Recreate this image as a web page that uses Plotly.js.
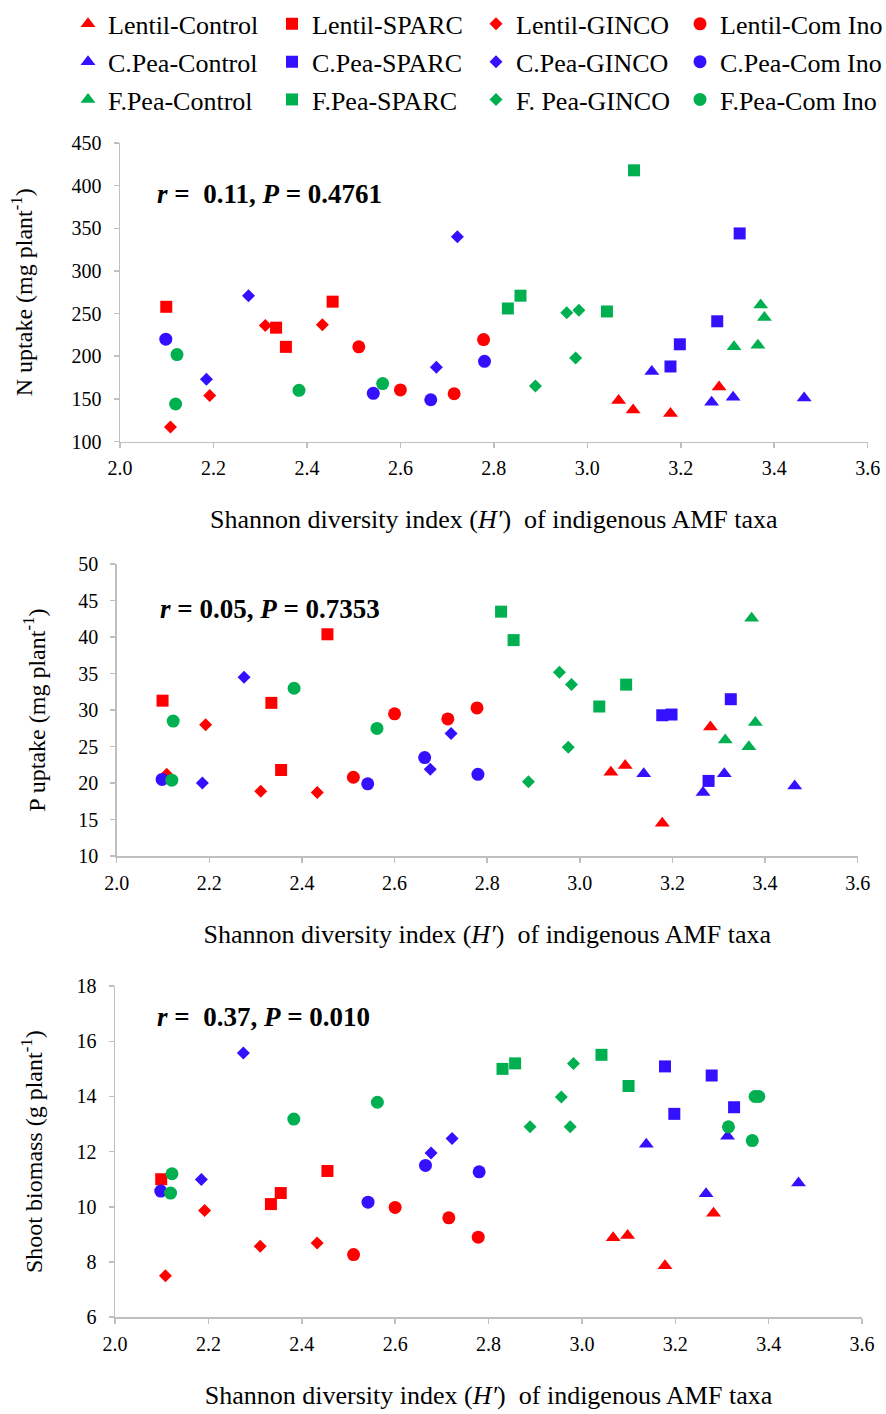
<!DOCTYPE html>
<html>
<head>
<meta charset="utf-8">
<script src="https://cdn.plot.ly/plotly-3.0.1.min.js"></script>
<style>html,body{margin:0;padding:0;background:#fff;}#chart{width:886px;height:1414px;}</style>
</head>
<body>
<div id="chart"></div>
<script>
// Group names (legend labels)
const groupNames = ["Lentil-Control","Lentil-SPARC","Lentil-GINCO","Lentil-Com Ino",
                    "C.Pea-Control","C.Pea-SPARC","C.Pea-GINCO","C.Pea-Com Ino",
                    "F.Pea-Control","F.Pea-SPARC","F. Pea-GINCO","F.Pea-Com Ino"];

// Shannon diversity index (H') per sample, one array per group
const xLentilControl = [3.067, 3.098, 3.178, 3.282];
const xLentilSPARC   = [2.099, 2.334, 2.355, 2.455];
const xLentilGINCO   = [2.108, 2.192, 2.311, 2.433];
const xLentilComIno  = [2.511, 2.600, 2.715, 2.778];
const xCPeaControl   = [3.138, 3.266, 3.312, 3.464];
const xCPeaSPARC     = [3.178, 3.198, 3.278, 3.326];
const xCPeaGINCO     = [2.185, 2.275, 2.677, 2.722];
const xCPeaComIno    = [2.098, 2.542, 2.665, 2.780];
const xFPeaControl   = [3.314, 3.365, 3.371, 3.379];
const xFPeaSPARC     = [2.830, 2.857, 3.042, 3.100];
const xFPeaGINCO     = [2.889, 2.956, 2.975, 2.982];
const xFPeaComIno    = [2.119, 2.122, 2.383, 2.562];

// N uptake (mg plant-1)
const nLentilControl = [148, 137, 133, 164];
const nLentilSPARC   = [258, 233.5, 211, 264];
const nLentilGINCO   = [117, 154, 236, 237];
const nLentilComIno  = [211, 160.5, 156, 219.5];
const nCPeaControl   = [182, 146, 152, 151];
const nCPeaSPARC     = [188, 214, 241, 344];
const nCPeaGINCO     = [173, 271, 187, 340];
const nCPeaComIno    = [220, 156.5, 149, 194];
const nFPeaControl   = [211, 213, 260, 245.5];
const nFPeaSPARC     = [256, 271, 252.5, 418];
const nFPeaGINCO     = [165, 251, 198, 254];
const nFPeaComIno    = [144, 202, 160, 168];

// P uptake (mg plant-1)
const pLentilControl = [21.5, 22.4, 14.5, 27.7];
const pLentilSPARC   = [31.3, 31.0, 21.8, 40.4];
const pLentilGINCO   = [21.2, 28.0, 18.9, 18.7];
const pLentilComIno  = [20.8, 29.5, 28.8, 30.3];
const pCPeaControl   = [21.3, 18.7, 21.3, 19.6];
const pCPeaSPARC     = [29.3, 29.4, 20.3, 31.5];
const pCPeaGINCO     = [20.0, 34.5, 21.9, 26.8];
const pCPeaComIno    = [20.5, 19.9, 23.5, 21.2];
const pFPeaControl   = [25.9, 25.0, 42.6, 28.3];
const pFPeaSPARC     = [43.5, 39.6, 30.5, 33.5];
const pFPeaGINCO     = [20.2, 35.2, 24.9, 33.5];
const pFPeaComIno    = [20.4, 28.5, 33.0, 27.5];

// Shoot biomass (g plant-1)
const sLentilControl = [8.88, 8.96, 7.86, 9.77];
const sLentilSPARC   = [11.0, 10.1, 10.5, 11.3];
const sLentilGINCO   = [7.5, 9.87, 8.57, 8.69];
const sLentilComIno  = [8.27, 9.98, 9.6, 8.9];
const sCPeaControl   = [12.27, 10.47, 12.56, 10.86];
const sCPeaSPARC     = [15.09, 13.37, 14.76, 13.61];
const sCPeaGINCO     = [10.99, 15.58, 11.95, 12.48];
const sCPeaComIno    = [10.57, 10.17, 11.5, 11.27];
const sFPeaControl   = [12.9, 12.4, 14.0, 14.0];
const sFPeaSPARC     = [15.0, 15.2, 15.51, 14.38];
const sFPeaGINCO     = [12.9, 13.98, 12.9, 15.2];
const sFPeaComIno    = [10.5, 11.2, 13.18, 13.79];

// Tick labels
const xTickVals = [2.0, 2.2, 2.4, 2.6, 2.8, 3.0, 3.2, 3.4, 3.6];
const xTickText = ["2.0","2.2","2.4","2.6","2.8","3.0","3.2","3.4","3.6"];

const statTexts = ["<b><i>r</i> =&nbsp; 0.11, <i>P</i> = 0.4761</b>",
                   "<b><i>r</i> = 0.05, <i>P</i> = 0.7353</b>",
                   "<b><i>r</i> =&nbsp; 0.37, <i>P</i> = 0.010</b>"];

const xs = [xLentilControl,xLentilSPARC,xLentilGINCO,xLentilComIno,xCPeaControl,xCPeaSPARC,xCPeaGINCO,xCPeaComIno,xFPeaControl,xFPeaSPARC,xFPeaGINCO,xFPeaComIno];
const ns = [nLentilControl,nLentilSPARC,nLentilGINCO,nLentilComIno,nCPeaControl,nCPeaSPARC,nCPeaGINCO,nCPeaComIno,nFPeaControl,nFPeaSPARC,nFPeaGINCO,nFPeaComIno];
const ps = [pLentilControl,pLentilSPARC,pLentilGINCO,pLentilComIno,pCPeaControl,pCPeaSPARC,pCPeaGINCO,pCPeaComIno,pFPeaControl,pFPeaSPARC,pFPeaGINCO,pFPeaComIno];
const ss = [sLentilControl,sLentilSPARC,sLentilGINCO,sLentilComIno,sCPeaControl,sCPeaSPARC,sCPeaGINCO,sCPeaComIno,sFPeaControl,sFPeaSPARC,sFPeaGINCO,sFPeaComIno];

const colors = ["#FF0000", "#3311FF", "#00B050"];
const symbols = ["triangle-up", "square", "diamond", "circle"];
const sizes = {"triangle-up": 13, "square": 12, "diamond": 10, "circle": 13};
const legendIds = ["legend", "legend2", "legend3"];

const traces = [];
const panels = [
  {ys: ns, xa: "x", ya: "y"},
  {ys: ps, xa: "x2", ya: "y2"},
  {ys: ss, xa: "x3", ya: "y3"}
];
panels.forEach((pan, pi) => {
  for (let g = 0; g < 12; g++) {
    const crop = Math.floor(g / 4);
    let sym = symbols[g % 4];
    // In the shoot-biomass panel the F.Pea-Control points are drawn as circles
    if (pi === 2 && g === 8) sym = "circle";
    traces.push({
      type: "scatter", mode: "markers",
      x: xs[g], y: pan.ys[g],
      xaxis: pan.xa, yaxis: pan.ya,
      name: groupNames[g],
      legendgroup: groupNames[g],
      legend: legendIds[crop],
      showlegend: pi === 0,
      cliponaxis: false,
      marker: {symbol: sym, size: sizes[sym], color: colors[crop], line: {width: 0}}
    });
  }
});

const W = 886, H = 1414;
function dx(a, b) { return [a / W, b / W]; }
function dy(top, bottom) { return [1 - bottom / H, 1 - top / H]; }

const FAM = "Liberation Serif";
const axisCommon = {
  showline: true, linecolor: "#BFBFBF", linewidth: 1.5,
  ticks: "outside", ticklen: 5, tickwidth: 1.5, tickcolor: "#BFBFBF",
  showgrid: false, zeroline: false,
  tickfont: {family: FAM, size: 20, color: "#000"}
};
const xTitleFont = {family: FAM, size: 26, color: "#000"};
const yTitleFont = {family: FAM, size: 24, color: "#000"};
const xTitle = "Shannon diversity index (<i>H′</i>)&nbsp; of indigenous AMF taxa";

function xAxis(domain, anchor) {
  return Object.assign({}, axisCommon, {
    domain: domain, anchor: anchor, range: [2.0, 3.6],
    tickvals: xTickVals, ticktext: xTickText, ticklabelstandoff: 3,
    title: {text: xTitle, font: xTitleFont, standoff: 32}
  });
}
function yAxis(domain, anchor, range, dtick, title, standoff) {
  return Object.assign({}, axisCommon, {
    domain: domain, anchor: anchor, range: range, dtick: dtick, tick0: range[0],
    ticklabelstandoff: 8,
    title: {text: title, font: yTitleFont, standoff: standoff}
  });
}

const legendFont = {family: FAM, size: 26, color: "#000"};
function legendAt(yPx) {
  return {
    orientation: "h", x: 68 / W, xanchor: "left", y: 1 - yPx / H, yanchor: "middle",
    entrywidth: 159, entrywidthmode: "pixels", font: legendFont,
    bgcolor: "rgba(0,0,0,0)", itemclick: false, itemdoubleclick: false,
    tracegroupgap: 0
  };
}

const annFont = {family: FAM, size: 27, color: "#000"};
const layout = {
  width: W, height: H,
  margin: {l: 0, r: 0, t: 0, b: 0},
  paper_bgcolor: "#fff", plot_bgcolor: "#fff",
  font: {family: FAM, color: "#000"},
  xaxis:  xAxis(dx(120, 867.7), "y"),
  yaxis:  yAxis(dy(136.7, 436.7), "x", [100, 450], 50, "N uptake (mg plant<sup>-1</sup>)", 32),
  xaxis2: xAxis(dx(116.7, 857.7), "y2"),
  yaxis2: yAxis(dy(560, 853.3), "x2", [10, 50], 5, "P uptake (mg plant<sup>-1</sup>)", 26),
  xaxis3: xAxis(dx(115, 862), "y3"),
  yaxis3: yAxis(dy(984, 1316.7), "x3", [6, 18], 2, "Shoot biomass (g plant<sup>-1</sup>)", 27),
  legend: legendAt(17),
  legend2: legendAt(55),
  legend3: legendAt(93),
  annotations: [
    {text: statTexts[0], xref: "paper", yref: "paper", x: 155 / W, y: 1 - 188 / H, xanchor: "left", yanchor: "middle", showarrow: false, font: annFont},
    {text: statTexts[1], xref: "paper", yref: "paper", x: 158 / W, y: 1 - 605 / H, xanchor: "left", yanchor: "middle", showarrow: false, font: annFont},
    {text: statTexts[2], xref: "paper", yref: "paper", x: 155 / W, y: 1 - 1015 / H, xanchor: "left", yanchor: "middle", showarrow: false, font: annFont}
  ]
};

Plotly.newPlot("chart", traces, layout, {staticPlot: true, displayModeBar: false});
</script>
</body>
</html>
